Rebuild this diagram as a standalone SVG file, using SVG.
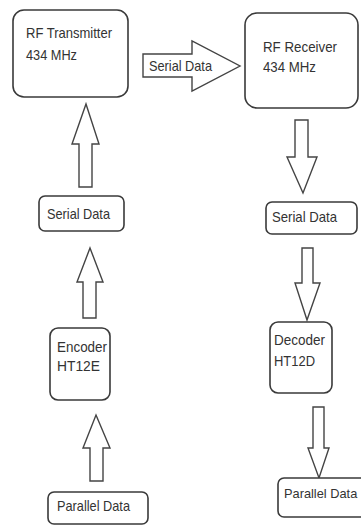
<svg xmlns="http://www.w3.org/2000/svg" width="361" height="525" viewBox="0 0 361 525">
  <style>
    .box { fill: #ffffff; stroke: #3a3a3a; stroke-width: 1.6; }
    .arrow { fill: #ffffff; stroke: #444444; stroke-width: 1.4; stroke-linejoin: miter; }
    .label { font-family: "Liberation Sans", Arial, sans-serif; font-size: 14.5px; fill: #333333; }
  </style>
  <rect x="0" y="0" width="361" height="525" fill="#ffffff"/>

  <!-- block arrows -->
  <g id="connectors">
    <!-- serial data: transmitter to receiver -->
    <polygon class="arrow" points="143,54 192,54 192,41 240,66 192,91 192,77 143,77"/>
    <text class="label" x="149" y="71" textLength="63" lengthAdjust="spacingAndGlyphs">Serial Data</text>
    <!-- left column, pointing up -->
    <polygon class="arrow" points="86,104 99,144 92,144 92,187 79,187 79,144 72,144"/>
    <polygon class="arrow" points="90,248 103,282 96,282 96,318 83,318 83,282 77,282"/>
    <polygon class="arrow" points="96,415 110,448 103,448 103,481 90,481 90,448 83,448"/>
    <!-- right column, pointing down -->
    <polygon class="arrow" points="295,120 308,120 308,157 317,157 303,193 287,157 295,157"/>
    <polygon class="arrow" points="302,248 313,248 313,283 320,283 307,320 295,283 302,283"/>
    <polygon class="arrow" points="313,407 324,407 324,448 329,448 319,478 308,448 313,448"/>
  </g>

  <g id="rf-transmitter">
    <rect class="box" x="13" y="10" width="115" height="87" rx="11"/>
    <text class="label" x="26" y="38" textLength="86" lengthAdjust="spacingAndGlyphs">RF Transmitter</text>
    <text class="label" x="26" y="60" textLength="51" lengthAdjust="spacingAndGlyphs">434 MHz</text>
  </g>

  <g id="rf-receiver">
    <rect class="box" x="245" y="13" width="113" height="95" rx="12"/>
    <text class="label" x="263" y="52" textLength="74" lengthAdjust="spacingAndGlyphs">RF Receiver</text>
    <text class="label" x="263" y="72" textLength="53" lengthAdjust="spacingAndGlyphs">434 MHz</text>
  </g>

  <g id="serial-data-tx">
    <rect class="box" x="39" y="196" width="85" height="35" rx="6"/>
    <text class="label" x="47" y="219" textLength="63" lengthAdjust="spacingAndGlyphs">Serial Data</text>
  </g>

  <g id="encoder">
    <rect class="box" x="50" y="328" width="60" height="72" rx="8"/>
    <text class="label" x="57" y="352" textLength="50" lengthAdjust="spacingAndGlyphs">Encoder</text>
    <text class="label" x="57" y="371" textLength="43" lengthAdjust="spacingAndGlyphs">HT12E</text>
  </g>

  <g id="parallel-data-tx">
    <rect class="box" x="48" y="492" width="100" height="32" rx="6"/>
    <text class="label" x="57" y="511" textLength="73" lengthAdjust="spacingAndGlyphs">Parallel Data</text>
  </g>

  <g id="serial-data-rx">
    <rect class="box" x="266" y="202" width="91" height="32" rx="6"/>
    <text class="label" x="272" y="222" textLength="65" lengthAdjust="spacingAndGlyphs">Serial Data</text>
  </g>

  <g id="decoder">
    <rect class="box" x="270" y="322" width="62" height="71" rx="8"/>
    <text class="label" x="274" y="345" textLength="51" lengthAdjust="spacingAndGlyphs">Decoder</text>
    <text class="label" x="274" y="366" textLength="41" lengthAdjust="spacingAndGlyphs">HT12D</text>
  </g>

  <g id="parallel-data-rx">
    <rect class="box" x="278" y="478" width="92" height="39" rx="6"/>
    <text class="label" x="284" y="498" style="font-size:12.8px">Parallel Data</text>
  </g>
</svg>
